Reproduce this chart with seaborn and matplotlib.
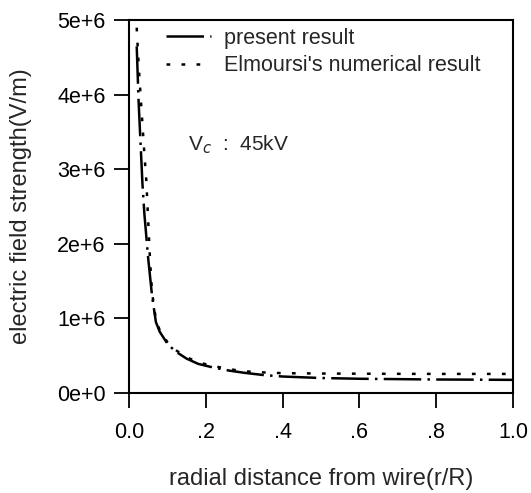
import numpy as np
import pandas as pd
import matplotlib
matplotlib.use("Agg")
import matplotlib.pyplot as plt
import seaborn as sns

# data (field strength in V/m)
x_present = [0.02, 0.025, 0.03, 0.035, 0.04, 0.05, 0.06, 0.07, 0.08, 0.10, 0.12, 0.15,
             0.18, 0.22, 0.26, 0.30, 0.35, 0.40, 0.45, 0.50, 0.60, 0.70, 0.80, 0.90, 1.00]
y_present = [4.65e6, 3.9e6, 3.35e6, 2.8e6, 2.4e6, 1.8e6, 1.3e6, 0.95e6, 0.82e6, 0.66e6, 0.56e6, 0.46e6,
             0.39e6, 0.34e6, 0.30e6, 0.27e6, 0.24e6, 0.22e6, 0.21e6, 0.20e6, 0.19e6, 0.185e6, 0.18e6, 0.178e6, 0.175e6]
x_elm = [0.02, 0.025, 0.03, 0.035, 0.04, 0.045, 0.05, 0.055, 0.06, 0.07, 0.08, 0.10, 0.12, 0.15,
         0.18, 0.22, 0.26, 0.30, 0.35, 0.40, 0.50, 0.60, 0.70, 0.80, 0.90, 1.00]
y_elm = [4.9e6, 4.4e6, 4.0e6, 3.6e6, 3.2e6, 2.85e6, 2.3e6, 1.75e6, 1.35e6, 0.98e6, 0.84e6, 0.68e6, 0.58e6, 0.48e6,
         0.41e6, 0.36e6, 0.32e6, 0.29e6, 0.275e6, 0.265e6, 0.26e6, 0.258e6, 0.256e6, 0.255e6, 0.255e6, 0.255e6]
labels = ["present result", "Elmoursi's numerical result"]
x_ticks = [0.0, 0.2, 0.4, 0.6, 0.8, 1.0]
x_ticklabels = ["0.0", ".2", ".4", ".6", ".8", "1.0"]
y_ticks = [0, 1e6, 2e6, 3e6, 4e6, 5e6]
y_ticklabels = ["0e+0", "1e+6", "2e+6", "3e+6", "4e+6", "5e+6"]

sns.set_theme(style="ticks")
plt.rcParams['font.family'] = ['Liberation Sans', 'DejaVu Sans']

df = pd.DataFrame({
    "x": x_present + x_elm,
    "y": y_present + y_elm,
    "series": [labels[0]] * len(x_present) + [labels[1]] * len(x_elm),
})

fig = plt.figure(figsize=(5.31, 4.93), dpi=100)
ax = fig.add_axes([0.243, 0.203, 0.723, 0.756])

sns.lineplot(data=df, x="x", y="y", style="series", hue="series",
             palette=["black", "black"],
             dashes={labels[0]: (15, 2.5, 1, 2.5), labels[1]: (1.5, 4.5)},
             linewidth=1.8, ax=ax, sort=True)

ax.set_xlim(0, 1.0)
ax.set_ylim(0, 5e6)
ax.set_xticks(x_ticks)
ax.set_xticklabels(x_ticklabels)
ax.set_yticks(y_ticks)
ax.set_yticklabels(y_ticklabels)
ax.tick_params(axis="both", direction="out", length=11, width=1.3, labelsize=15.5, colors="black", pad=6)
ax.tick_params(axis="x", pad=10)
for s in ax.spines.values():
    s.set_visible(True)
    s.set_linewidth(1.5)
    s.set_color("black")

ax.set_xlabel("radial distance from wire(r/R)", fontsize=17, labelpad=18)
ax.set_ylabel("electric field strength(V/m)", fontsize=17, labelpad=18)

ax.text(0.153, 3.33e6, r"V$_c$  :  45kV", fontsize=15, ha="left", va="center")

leg = ax.legend(loc="upper left", frameon=False, fontsize=15.5, handlelength=2.1,
                borderaxespad=0.0, borderpad=0.0, handletextpad=0.6, labelspacing=0.3,
                bbox_to_anchor=(0.095, 0.98))

fig.savefig("out.png", dpi=100)
